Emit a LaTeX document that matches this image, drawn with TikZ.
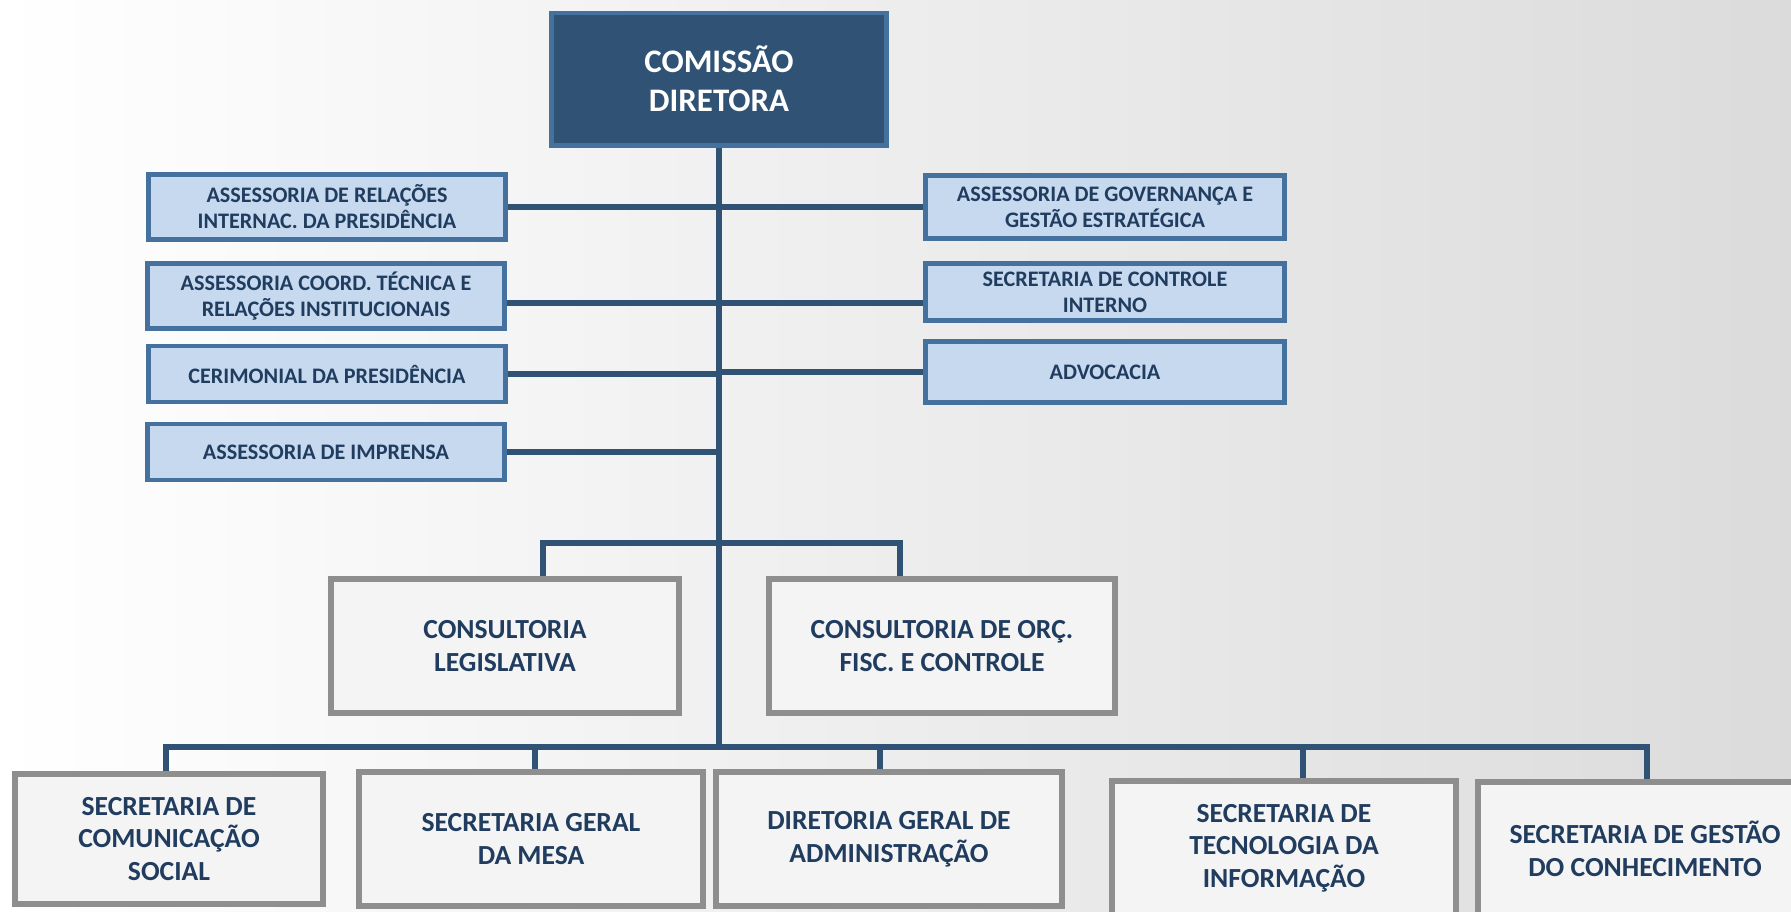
\documentclass[tikz,border=0pt]{standalone}
\usepackage{fontspec}
\setmainfont{Carlito}
\definecolor{azulescuro}{HTML}{2F5275}
\definecolor{azulborda}{HTML}{44719E}
\definecolor{azulclaro}{HTML}{C6D9EE}
\definecolor{azultexto}{HTML}{203C5F}
\definecolor{cinzaborda}{HTML}{8E8E8E}
\definecolor{cinzafundo}{HTML}{F4F4F4}

\begin{document}
\begin{tikzpicture}[x=0.01cm, y=-0.01cm, line join=miter,
	diretora/.style={draw=azulborda, line width=1.4pt, fill=azulescuro, text=white, align=center, inner sep=0pt, minimum width=3.35cm, minimum height=1.32cm, font=\fontsize{9.35}{11.1}\selectfont\bfseries},
	assessoria/.style={draw=azulborda, line width=1.4pt, fill=azulclaro, text=azultexto, align=center, inner sep=0pt, minimum width=3.57cm, font=\fontsize{6.3}{7.4}\selectfont\bfseries},
	unidade/.style={draw=cinzaborda, line width=1.7pt, fill=cinzafundo, text=azultexto, align=center, inner sep=0pt, minimum height=1.34cm, font=\fontsize{7.85}{9.3}\selectfont\bfseries},
	ligacao/.style={draw=azulescuro, line width=1.85pt}]
	\useasboundingbox (0,0) rectangle (1791,911);
	\clip (0,0) rectangle (1791,911);
	\shade[left color=white, right color=black!14] (0,0) rectangle (1791,911);
	% topo
	\node[diretora] (cd) at (719,79) {COMISSÃO\\DIRETORA};
	% assessorias da esquerda
	\node[assessoria, minimum height=0.65cm] (ari) at (327,207) {ASSESSORIA DE RELAÇÕES\\INTERNAC. DA PRESIDÊNCIA};
	\node[assessoria, minimum height=0.65cm] (act) at (326,296) {ASSESSORIA COORD. TÉCNICA E\\RELAÇÕES INSTITUCIONAIS};
	\node[assessoria, minimum height=0.56cm] (cer) at (327,374) {CERIMONIAL DA PRESIDÊNCIA};
	\node[assessoria, minimum height=0.56cm] (imp) at (326,452) {ASSESSORIA DE IMPRENSA};
	% assessorias da direita
	\node[assessoria, minimum width=3.59cm, minimum height=0.63cm] (agg) at (1105,207) {ASSESSORIA DE GOVERNANÇA E\\GESTÃO ESTRATÉGICA};
	\node[assessoria, minimum width=3.59cm, minimum height=0.57cm] (sci) at (1105,292) {SECRETARIA DE CONTROLE\\INTERNO};
	\node[assessoria, minimum width=3.59cm, minimum height=0.61cm] (adv) at (1105,372) {ADVOCACIA};
	% consultorias
	\node[unidade, minimum width=3.47cm] (cleg) at (505,646) {CONSULTORIA\\LEGISLATIVA};
	\node[unidade, minimum width=3.46cm] (corc) at (942,646) {CONSULTORIA DE ORÇ.\\FISC. E CONTROLE};
	% secretarias
	\node[unidade, minimum width=3.07cm, minimum height=1.29cm] (scs) at (169,839) {SECRETARIA DE\\COMUNICAÇÃO\\SOCIAL};
	\node[unidade, minimum width=3.44cm] (sgm) at (531,839) {SECRETARIA GERAL\\DA MESA};
	\node[unidade, minimum width=3.45cm] (dga) at (889,839) {DIRETORIA GERAL DE\\ADMINISTRAÇÃO};
	\node[unidade, minimum width=3.44cm] (sti) at (1284,848) {SECRETARIA DE\\TECNOLOGIA DA\\INFORMAÇÃO};
	\node[unidade, minimum width=3.33cm] (sgc) at (1645,849) {SECRETARIA DE GESTÃO\\DO CONHECIMENTO};
	% ligacoes
	\coordinate (barra) at (720,747);
	\coordinate (bus1) at (166,747);
	\coordinate (bus2) at (535,747);
	\coordinate (bus3) at (880,747);
	\coordinate (bus4) at (1303,747);
	\coordinate (bus5) at (1647,747);
	\coordinate (cl) at (543,543);
	\coordinate (cr) at (900,543);
	\draw[ligacao] (cd.south) -- (cd.south |- barra);
	\foreach \n in {ari,cer,imp} \draw[ligacao] (\n.east) -- (\n.east -| cd.south);
	\foreach \n in {agg,adv} \draw[ligacao] (\n.west) -- (\n.west -| cd.south);
	\draw[ligacao] ([yshift=-0.07cm]act.east) -- ([yshift=-0.07cm]act.east -| cd.south);
	\draw[ligacao] ([yshift=-0.11cm]sci.west) -- ([yshift=-0.11cm]sci.west -| cd.south);
	\draw[ligacao] (cl |- cleg.north) -- (cl) -- (cr) -- (cr |- corc.north);
	\draw[ligacao] (bus1 |- scs.north) -- (bus1) -- (bus5) -- (bus5 |- sgc.north);
	\draw[ligacao] (bus2) -- (bus2 |- sgm.north) (bus3) -- (bus3 |- dga.north) (bus4) -- (bus4 |- sti.north);
\end{tikzpicture}
\end{document}
